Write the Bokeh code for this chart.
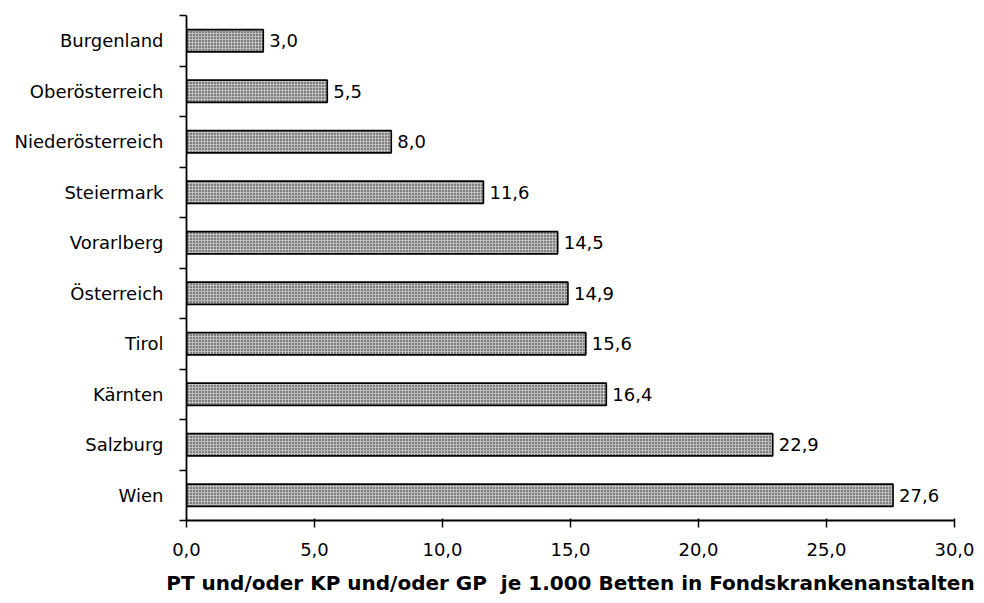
from bokeh.plotting import figure
from bokeh.models import Range1d, FixedTicker, ColumnDataSource, LabelSet
from bokeh.core.properties import value
from bokeh.embed import file_html
from bokeh.resources import INLINE

regions = ["Burgenland", "Oberösterreich", "Niederösterreich", "Steiermark", "Vorarlberg",
           "Österreich", "Tirol", "Kärnten", "Salzburg", "Wien"]
values = [3.0, 5.5, 8.0, 11.6, 14.5, 14.9, 15.6, 16.4, 22.9, 27.6]
x_ticks = [0, 5, 10, 15, 20, 25, 30]
x_title = "PT und/oder KP und/oder GP\u00a0\u00a0je 1.000 Betten in Fondskrankenanstalten"

FONT = "DejaVu Sans"

pos = [i + 0.5 for i in range(len(regions))]
labels = [f"{v:.1f}".replace(".", ",") for v in values]
src = ColumnDataSource(dict(y=pos, v=values, lab=labels))

p = figure(width=984, height=603, output_backend="svg", toolbar_location=None,
           x_range=Range1d(0, 30), y_range=Range1d(len(regions), 0),
           min_border_left=186, min_border_right=30, min_border_top=15, min_border_bottom=83)
p.outline_line_color = None
p.grid.visible = False
p.background_fill_color = "white"

p.hbar(y="y", right="v", left=0, height=0.44, source=src,
       fill_color="#bdbdbd", line_color="black", line_width=1.6,
       hatch_pattern="dot", hatch_color="black", hatch_scale=3, hatch_weight=1.5, hatch_alpha=0.85)

p.add_layout(LabelSet(x="v", y="y", text="lab", source=src, x_offset=6,
                      text_align="left", text_baseline="middle",
                      text_font=value(FONT), text_font_size="18px", text_color="black"))

# y axis
p.yaxis.ticker = FixedTicker(ticks=pos, minor_ticks=list(range(len(regions) + 1)))
p.yaxis.major_label_overrides = {pp: r for pp, r in zip(pos, regions)}
p.yaxis.major_tick_out = 0
p.yaxis.major_tick_in = 0
p.yaxis.minor_tick_out = 7
p.yaxis.minor_tick_in = 0
p.yaxis.minor_tick_line_width = 1.5
p.yaxis.minor_tick_line_color = "black"
p.yaxis.major_label_standoff = 16
p.yaxis.major_label_text_font = FONT
p.yaxis.major_label_text_font_size = "18px"
p.yaxis.major_label_text_color = "black"
p.yaxis.axis_line_width = 1.8
p.yaxis.axis_line_color = "black"

# x axis
p.xaxis.ticker = FixedTicker(ticks=x_ticks, minor_ticks=[])
p.xaxis.major_label_overrides = {t: f"{t:.1f}".replace(".", ",") for t in x_ticks}
p.xaxis.major_tick_out = 7
p.xaxis.major_tick_in = 2
p.xaxis.major_tick_line_width = 1.5
p.xaxis.major_tick_line_color = "black"
p.xaxis.minor_tick_out = 0
p.xaxis.minor_tick_in = 0
p.xaxis.major_label_standoff = 15
p.xaxis.major_label_text_font = FONT
p.xaxis.major_label_text_font_size = "18px"
p.xaxis.major_label_text_color = "black"
p.xaxis.axis_line_width = 1.8
p.xaxis.axis_line_color = "black"
p.xaxis.axis_label = x_title
p.xaxis.axis_label_text_font = FONT
p.xaxis.axis_label_text_font_style = "bold"
p.xaxis.axis_label_text_font_size = "20px"
p.xaxis.axis_label_text_color = "black"
p.xaxis.axis_label_standoff = 12

open("out.html", "w").write(file_html(p, INLINE))
